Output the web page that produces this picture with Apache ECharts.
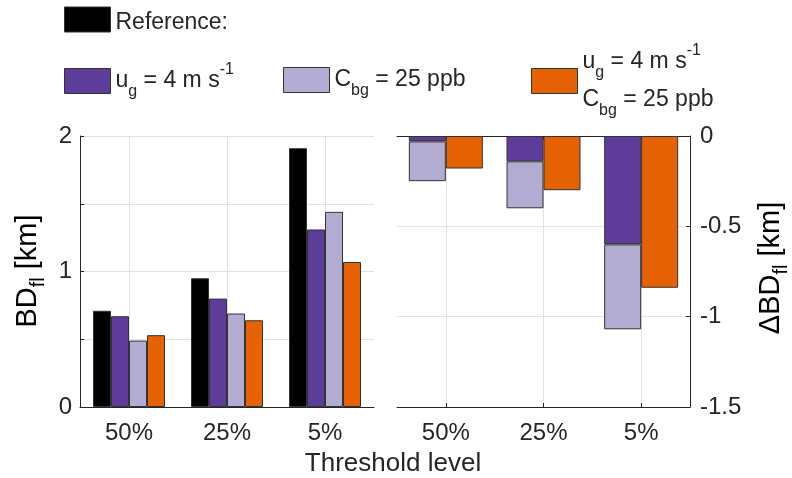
<!DOCTYPE html>
<html>
<head>
<meta charset="utf-8">
<script src="https://cdn.jsdelivr.net/npm/echarts@6/dist/echarts.min.js"></script>
<style>
  html, body { margin: 0; padding: 0; background: #fff; }
  #chart { width: 792px; height: 478px; }
</style>
</head>
<body>
<div id="chart"></div>
<script>
// threshold levels
var categories = ['50%', '25%', '5%'];

// left panel: BD_fl [km]
var refValues  = [0.71, 0.95, 1.91];
var ugValues   = [0.67, 0.80, 1.31];
var cbgValues  = [0.49, 0.69, 1.44];
var bothValues = [0.53, 0.64, 1.07];

// right panel: delta BD_fl [km] (ug and cbg stacked)
var dUgValues   = [-0.03, -0.14, -0.60];
var dCbgValues  = [-0.22, -0.26, -0.47];
var dBothValues = [-0.18, -0.30, -0.84];

var FONT = 'Liberation Sans';
var TXT = '#262626';
var colors = { ref: '#000000', ug: '#5e3c99', cbg: '#b2abd2', both: '#e66101' };

var legendRich = {
	r:   { fontSize: 23, lineHeight: 26, padding: [6, 0, 0, 0], color: TXT, fontFamily: FONT },
	n:   { fontSize: 23, lineHeight: 38, color: TXT, fontFamily: FONT },
	sub: { fontSize: 16, lineHeight: 16, verticalAlign: 'bottom', color: TXT, fontFamily: FONT },
	sup: { fontSize: 16, lineHeight: 16, verticalAlign: 'top', color: TXT, fontFamily: FONT }
};
var legendText = {
	'Reference:': '{r|Reference:}',
	'ug':   '{n|u}{sub|g}{n| = 4 m s}{sup|-1}',
	'cbg':  '{n|C}{sub|bg}{n| = 25 ppb}',
	'both': '{n|u}{sub|g}{n| = 4 m s}{sup|-1}\n{n|C}{sub|bg}{n| = 25 ppb}'
};

function makeLegend(name, left, top) {
	return {
		data: [name],
		left: left,
		top: top,
		padding: 0,
		icon: 'rect',
		itemWidth: 46,
		itemHeight: 25,
		selectedMode: false,
		itemStyle: { borderColor: '#333', borderWidth: 1 },
		formatter: function (n) { return legendText[n]; },
		textStyle: { rich: legendRich, fontFamily: FONT, color: TXT }
	};
}

var barStyle = function (c) {
	return { color: c, borderColor: '#333', borderWidth: 1 };
};

var nameRich = {
	n:   { fontSize: 29, lineHeight: 40, color: TXT, fontFamily: FONT },
	sub: { fontSize: 20, lineHeight: 20, verticalAlign: 'bottom', color: TXT, fontFamily: FONT }
};

var gridLine = { show: true, lineStyle: { color: '#e2e2e2', width: 1 } };
var axisLineDark = { show: true, onZero: false, lineStyle: { color: TXT, width: 1 } };
var tickLabel = { fontSize: 24, color: TXT, fontFamily: FONT };

var option = {
	animation: false,
	backgroundColor: '#ffffff',
	legend: [
		makeLegend('Reference:', 64, 5),
		makeLegend('ug', 64, 62),
		makeLegend('cbg', 283, 67),
		makeLegend('both', 531, 43)
	],
	grid: [
		{ left: 80, top: 136, width: 294, height: 271 },
		{ left: 397, top: 136, width: 293, height: 271 }
	],
	xAxis: [
		{
			type: 'category', gridIndex: 0, data: categories, position: 'bottom',
			axisLine: axisLineDark,
			axisTick: { show: true, inside: true, length: 4, alignWithLabel: true, lineStyle: { color: TXT } },
			axisLabel: Object.assign({ margin: 14 }, tickLabel),
			splitLine: Object.assign({ alignWithLabel: true }, gridLine)
		},
		{
			type: 'category', gridIndex: 1, data: categories, position: 'bottom',
			axisLine: axisLineDark,
			axisTick: { show: true, inside: true, length: 4, alignWithLabel: true, lineStyle: { color: TXT } },
			axisLabel: Object.assign({ margin: 14 }, tickLabel),
			splitLine: Object.assign({ alignWithLabel: true }, gridLine)
		},
		{
			type: 'category', gridIndex: 1, data: categories, position: 'top',
			axisLine: axisLineDark,
			axisTick: { show: true, inside: true, length: 4, alignWithLabel: true, lineStyle: { color: TXT } },
			axisLabel: { show: false },
			splitLine: { show: false }
		}
	],
	yAxis: [
		{
			type: 'value', gridIndex: 0, min: 0, max: 2, interval: 0.5, position: 'left',
			axisLine: axisLineDark,
			axisTick: { show: true, inside: true, length: 4, lineStyle: { color: TXT } },
			axisLabel: Object.assign({
				margin: 8,
				formatter: function (v) { return v % 1 === 0 ? String(v) : ''; }
			}, tickLabel),
			splitLine: gridLine
		},
		{
			type: 'value', gridIndex: 1, min: -1.5, max: 0, interval: 0.5, position: 'right',
			axisLine: axisLineDark,
			axisTick: { show: true, inside: true, length: 4, lineStyle: { color: TXT } },
			axisLabel: Object.assign({ margin: 10 }, tickLabel),
			splitLine: gridLine
		}
	],
	series: [
		{ name: 'Reference:', type: 'bar', xAxisIndex: 0, yAxisIndex: 0, data: refValues,
		  barWidth: 18, barGap: '0%', itemStyle: barStyle(colors.ref) },
		{ name: 'ug', type: 'bar', xAxisIndex: 0, yAxisIndex: 0, data: ugValues,
		  barWidth: 18, barGap: '0%', itemStyle: barStyle(colors.ug) },
		{ name: 'cbg', type: 'bar', xAxisIndex: 0, yAxisIndex: 0, data: cbgValues,
		  barWidth: 18, barGap: '0%', itemStyle: barStyle(colors.cbg) },
		{ name: 'both', type: 'bar', xAxisIndex: 0, yAxisIndex: 0, data: bothValues,
		  barWidth: 18, barGap: '0%', itemStyle: barStyle(colors.both) },

		{ name: 'ug', type: 'bar', xAxisIndex: 1, yAxisIndex: 1, data: dUgValues, stack: 'd',
		  barWidth: 37, barGap: '0%', itemStyle: barStyle(colors.ug) },
		{ name: 'cbg', type: 'bar', xAxisIndex: 1, yAxisIndex: 1, data: dCbgValues, stack: 'd',
		  barWidth: 37, barGap: '0%', itemStyle: barStyle(colors.cbg) },
		{ name: 'both', type: 'bar', xAxisIndex: 1, yAxisIndex: 1, data: dBothValues,
		  barWidth: 37, barGap: '0%', itemStyle: barStyle(colors.both) }
	],
	graphic: [
		{
			type: 'text', x: 28, y: 271, rotation: Math.PI / 2,
			style: { text: '{n|BD}{sub|fl}{n| [km]}', rich: nameRich, align: 'center', verticalAlign: 'middle' }
		},
		{
			type: 'text', x: 771, y: 268, rotation: Math.PI / 2,
			style: { text: '{n|\u0394BD}{sub|fl}{n| [km]}', rich: nameRich, align: 'center', verticalAlign: 'middle' }
		},
		{
			type: 'text', x: 393, y: 464,
			style: { text: 'Threshold level', font: '26px "Liberation Sans"', fill: TXT, align: 'center', verticalAlign: 'middle' }
		}
	]
};

var myChart = echarts.init(document.getElementById('chart'), null, { renderer: 'canvas' });
myChart.setOption(option);
</script>
</body>
</html>
